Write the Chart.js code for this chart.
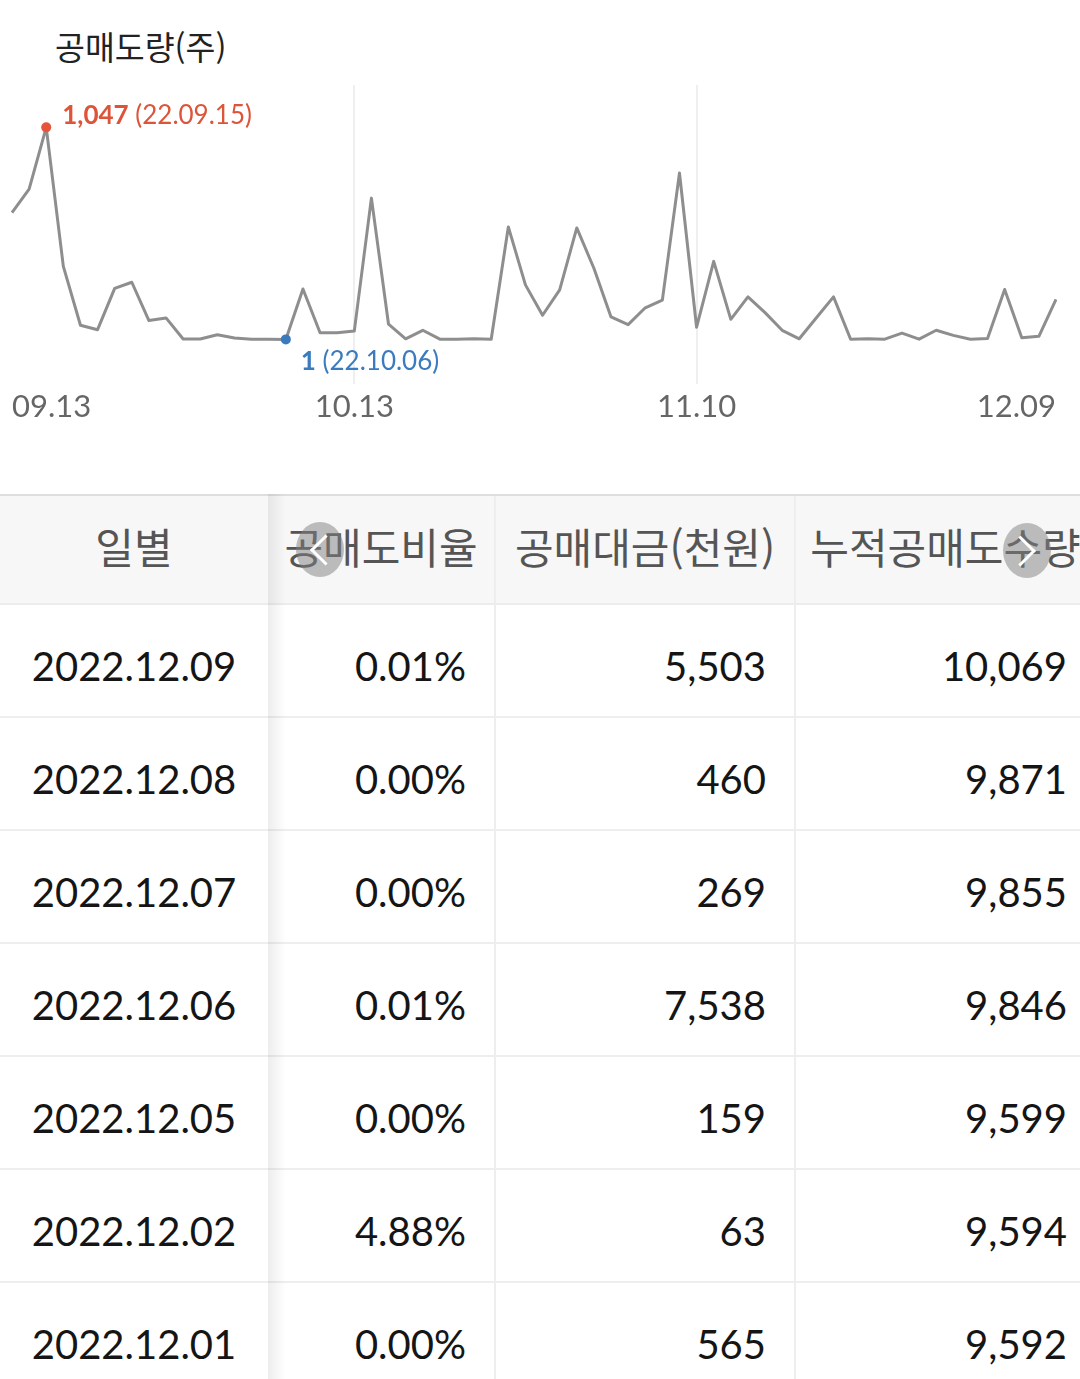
<!DOCTYPE html>
<html lang="ko">
<head>
<meta charset="utf-8">
<title>공매도량</title>
<script src="https://cdn.jsdelivr.net/npm/chart.js@4.4.0/dist/chart.umd.min.js"></script>
<style>
  html, body { margin: 0; padding: 0; background: #fff; }
  body {
    width: 1080px; height: 1379px; overflow: hidden; position: relative;
    font-family: Lato, "Noto Sans CJK KR", sans-serif;
  }
  .title {
    position: absolute; left: 55px; top: 29px; height: 33px;
    font: 32.5px/33px "Noto Sans CJK KR", sans-serif; color: #222;
    white-space: nowrap;
  }
  .chart-box { position: absolute; left: 0; top: 0; width: 1080px; height: 440px; }
  .table { position: absolute; left: 0; top: 494px; width: 1095px; }
  .row { display: flex; box-sizing: border-box; height: 113px; border-bottom: 2px solid #eeeeee; }
  .row.head { height: 111px; background: #f7f7f7; border-top: 2px solid #dedede; border-bottom: 2px solid #ececec; }
  .cell {
    box-sizing: border-box; display: flex; align-items: center; justify-content: flex-end;
    padding-right: 28px; padding-top: 10px; white-space: nowrap;
    font-size: 40px; color: #151515; border-right: 2px solid #eeeeee;
  }
  .cell:first-child { justify-content: center; padding-right: 0; border-right: none; }
  .head .cell {
    justify-content: center; padding: 0 0 9px 0;
    font-family: "Noto Sans CJK KR", sans-serif; font-size: 42px; color: #555;
  }
  .c1 { width: 268px; } .c2 { width: 228px; } .c3 { width: 300px; } .c4 { width: 299px; border-right: none !important; }
  .shade {
    position: absolute; left: 268px; top: 494px; width: 18px; height: 900px;
    background: linear-gradient(to right, rgba(0,0,0,0.07), rgba(0,0,0,0));
    pointer-events: none;
  }
  .nav {
    position: absolute; width: 48px; height: 55px; border-radius: 50%;
    background: rgba(128,128,128,0.5);
  }
  .nav::after {
    content: ''; position: absolute; left: 50%; top: 50%; width: 19px; height: 19px;
    border-left: 3px solid #fff; border-bottom: 3px solid #fff;
  }
  .nav.prev { left: 296px; top: 522px; }
  .nav.prev::after { transform: translate(-25%, -50%) rotate(45deg); }
  .nav.next { left: 1003px; top: 523px; }
  .nav.next::after { transform: translate(-80%, -50%) rotate(-135deg); }
</style>
</head>
<body>
<div class="title">공매도량(주)</div>
<div class="chart-box"><canvas id="shortChart" width="1080" height="440"></canvas></div>
<div class="table" id="table"></div>
<div class="shade"></div>
<div class="nav prev"></div>
<div class="nav next"></div>

<script>
// Trading days (YY.MM.DD)
const tradeDates = [
  '22.09.13','22.09.14','22.09.15','22.09.16','22.09.19','22.09.20','22.09.21','22.09.22','22.09.23',
  '22.09.26','22.09.27','22.09.28','22.09.29','22.09.30',
  '22.10.04','22.10.05','22.10.06','22.10.07','22.10.11','22.10.12','22.10.13','22.10.14',
  '22.10.17','22.10.18','22.10.19','22.10.20','22.10.21','22.10.24','22.10.25','22.10.26',
  '22.10.27','22.10.28','22.10.31',
  '22.11.01','22.11.02','22.11.03','22.11.04','22.11.07','22.11.08','22.11.09','22.11.10',
  '22.11.11','22.11.14','22.11.15','22.11.16','22.11.17','22.11.18','22.11.21','22.11.22',
  '22.11.23','22.11.24','22.11.25','22.11.28','22.11.29','22.11.30',
  '22.12.01','22.12.02','22.12.05','22.12.06','22.12.07','22.12.08','22.12.09'
];

// Daily short-sale volume (shares)
const volumes = [
  626, 742, 1047, 361, 71, 49, 253, 283, 94,
  107, 3, 3, 24, 8,
  2, 2, 1, 250, 34, 34, 42, 698,
  76, 4, 46, 2, 2, 4, 2, 556,
  270, 120, 245,
  551, 352, 112, 74, 157, 195, 822, 61,
  386, 100, 211, 133, 46, 4, 108, 211,
  2, 4, 2, 32, 2, 46,
  21, 2, 5, 247, 9, 16, 198
];

// Dates shown under the axis; the middle two also get a grid line
const axisDates = ['22.09.13', '22.10.13', '22.11.10', '22.12.09'];
const gridDates = ['22.10.13', '22.11.10'];

// Table
const headers = ['일별', '공매도비율', '공매대금(천원)', '누적공매도수량'];
const rowDates = ['2022.12.09', '2022.12.08', '2022.12.07', '2022.12.06', '2022.12.05', '2022.12.02', '2022.12.01'];
const ratios = ['0.01%', '0.00%', '0.00%', '0.01%', '0.00%', '4.88%', '0.00%'];
const amounts = ['5,503', '460', '269', '7,538', '159', '63', '565'];
const cumulative = ['10,069', '9,871', '9,855', '9,846', '9,599', '9,594', '9,592'];

const maxIdx = volumes.indexOf(Math.max(...volumes));
const minIdx = volumes.indexOf(Math.min(...volumes));

const HIGH_COLOR = '#dc5539';
const LOW_COLOR = '#3a7bc0';

// Labels next to the highest and lowest points
const extremaLabels = {
  id: 'extremaLabels',
  afterDatasetsDraw(chart) {
    const meta = chart.getDatasetMeta(0);
    const ctx = chart.ctx;
    const put = (i, color, dx, dy) => {
      const pt = meta.data[i];
      const val = volumes[i].toLocaleString('en-US');
      ctx.save();
      ctx.textBaseline = 'middle';
      ctx.textAlign = 'left';
      ctx.fillStyle = color;
      ctx.font = 'bold 26px Lato';
      ctx.fillText(val, pt.x + dx, pt.y + dy);
      const w = ctx.measureText(val).width;
      ctx.font = '26px Lato';
      ctx.fillText(' (' + tradeDates[i] + ')', pt.x + dx + w, pt.y + dy);
      ctx.restore();
    };
    put(maxIdx, HIGH_COLOR, 16, -12);
    put(minIdx, LOW_COLOR, 15, 22);
  }
};

new Chart(document.getElementById('shortChart'), {
  type: 'line',
  data: {
    labels: tradeDates,
    datasets: [{
      data: volumes,
      borderColor: '#8e8e8e',
      borderWidth: 3,
      borderJoinStyle: 'round',
      tension: 0,
      fill: false,
      pointRadius: c => (c.dataIndex === maxIdx || c.dataIndex === minIdx) ? 5 : 0,
      pointHoverRadius: 0,
      pointBorderWidth: 0,
      pointBackgroundColor: c => c.dataIndex === maxIdx ? '#e8543a' : LOW_COLOR
    }]
  },
  options: {
    responsive: false,
    animation: false,
    devicePixelRatio: 1,
    layout: { padding: { top: 85, left: 12, right: 24, bottom: 9 } },
    plugins: { legend: { display: false }, tooltip: { enabled: false } },
    scales: {
      x: {
        type: 'category',
        offset: false,
        border: { display: false },
        grid: {
          drawTicks: false,
          lineWidth: 2,
          color: c => gridDates.includes(tradeDates[c.index]) ? '#efefef' : 'rgba(0,0,0,0)'
        },
        ticks: {
          autoSkip: false,
          maxRotation: 0,
          minRotation: 0,
          align: 'inner',
          padding: 5,
          color: '#666',
          font: { family: 'Lato', size: 31 },
          callback: (value, index) => axisDates.includes(tradeDates[index]) ? tradeDates[index].slice(3) : ''
        }
      },
      y: {
        display: false,
        min: -218,
        max: 1256
      }
    }
  },
  plugins: [extremaLabels]
});

// Build the daily table
(function buildTable() {
  const table = document.getElementById('table');
  const cls = ['c1', 'c2', 'c3', 'c4'];
  const addRow = (cells, head) => {
    const row = document.createElement('div');
    row.className = head ? 'row head' : 'row';
    cells.forEach((txt, k) => {
      const cell = document.createElement('div');
      cell.className = 'cell ' + cls[k];
      cell.textContent = txt;
      row.appendChild(cell);
    });
    table.appendChild(row);
  };
  addRow(headers, true);
  rowDates.forEach((d, i) => addRow([d, ratios[i], amounts[i], cumulative[i]], false));
})();
</script>
</body>
</html>
